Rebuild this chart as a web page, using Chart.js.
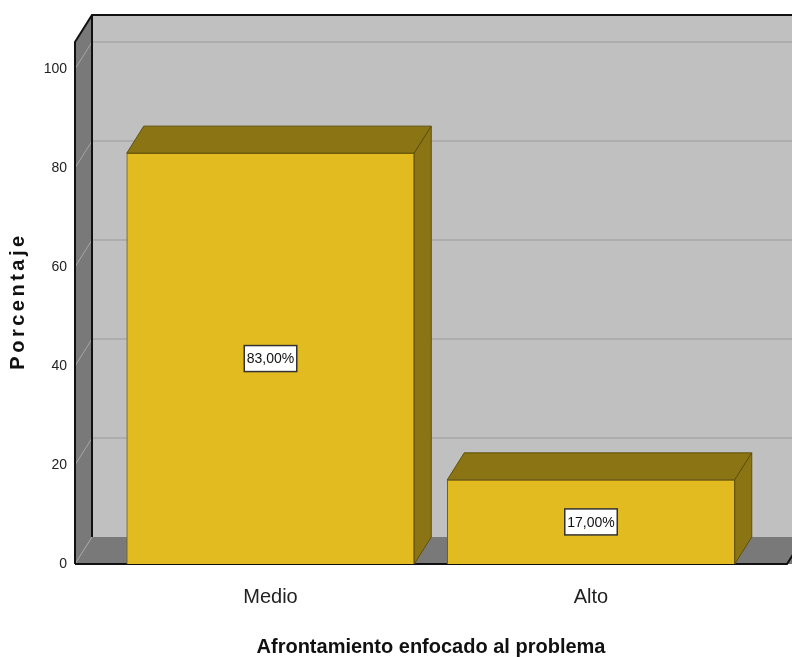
<!DOCTYPE html>
<html>
<head>
<meta charset="utf-8">
<script src="https://cdn.jsdelivr.net/npm/chart.js@4/dist/chart.umd.min.js"></script>
<style>
  body { margin: 0; background: #fff; }
  canvas { display: block; }
</style>
</head>
<body>
<canvas id="chart" width="792" height="657"></canvas>
<script>
const categories = ['Medio', 'Alto'];
const percentages = [83, 17];
const yTicks = [0, 20, 40, 60, 80, 100];
const xTitle = 'Afrontamiento enfocado al problema';
const yTitle = 'Porcentaje';

// depth of the fake 3D box
const DX = 17;
const DY = 27;

const sans = "'Liberation Sans', Arial, sans-serif";

function fmtPct(v) {
  return v.toFixed(2).replace('.', ',') + '%';
}

const threeD = {
  id: 'threeD',
  beforeDatasetsDraw(chart) {
    const ctx = chart.ctx;
    const { left: L, right: R, top: T, bottom: B } = chart.chartArea;
    const y = chart.scales.y;
    ctx.save();

    // back wall
    ctx.fillStyle = '#c0c0c0';
    ctx.fillRect(L + DX, T - DY, R - L + 40, B - T);

    // left wall
    ctx.fillStyle = '#797979';
    ctx.beginPath();
    ctx.moveTo(L, T);
    ctx.lineTo(L + DX, T - DY);
    ctx.lineTo(L + DX, B - DY);
    ctx.lineTo(L, B);
    ctx.closePath();
    ctx.fill();

    // floor
    ctx.beginPath();
    ctx.moveTo(L, B);
    ctx.lineTo(L + DX, B - DY);
    ctx.lineTo(R + DX + 40, B - DY);
    ctx.lineTo(R + 40, B);
    ctx.closePath();
    ctx.fill();

    // grid lines
    yTicks.forEach(v => {
      const py = y.getPixelForValue(v);
      if (v > 0) {
        ctx.strokeStyle = '#adadad';
        ctx.lineWidth = 2;
        ctx.beginPath();
        ctx.moveTo(L + DX, py - DY);
        ctx.lineTo(R + DX + 40, py - DY);
        ctx.stroke();
      }
      ctx.strokeStyle = '#a6a6a6';
      ctx.lineWidth = 1;
      ctx.beginPath();
      ctx.moveTo(L, py);
      ctx.lineTo(L + DX, py - DY);
      ctx.stroke();
    });

    // edges
    ctx.strokeStyle = '#111';
    ctx.lineWidth = 2;
    ctx.beginPath();
    ctx.moveTo(L, B);
    ctx.lineTo(L, T);
    ctx.lineTo(L + DX, T - DY);
    ctx.lineTo(R + DX + 40, T - DY);
    ctx.moveTo(L + DX, T - DY);
    ctx.lineTo(L + DX, B - DY);
    ctx.moveTo(L, B);
    ctx.lineTo(R, B);
    ctx.lineTo(R + DX, B - DY);
    ctx.stroke();
    ctx.restore();
  },
  afterDatasetsDraw(chart) {
    const ctx = chart.ctx;
    const meta = chart.getDatasetMeta(0);
    ctx.save();
    meta.data.forEach((bar, i) => {
      const { x, y, base, width } = bar.getProps(['x', 'y', 'base', 'width'], true);
      const l = x - width / 2;
      const r = x + width / 2;
      ctx.fillStyle = '#8b7413';
      ctx.strokeStyle = '#5f500c';
      ctx.lineWidth = 1;
      // top face
      ctx.beginPath();
      ctx.moveTo(l, y);
      ctx.lineTo(l + DX, y - DY);
      ctx.lineTo(r + DX, y - DY);
      ctx.lineTo(r, y);
      ctx.closePath();
      ctx.fill();
      ctx.stroke();
      // side face
      ctx.beginPath();
      ctx.moveTo(r, y);
      ctx.lineTo(r + DX, y - DY);
      ctx.lineTo(r + DX, base - DY);
      ctx.lineTo(r, base);
      ctx.closePath();
      ctx.fill();
      ctx.stroke();

      // value label
      const cy = (y + base) / 2;
      const txt = fmtPct(percentages[i]);
      ctx.font = '14px ' + sans;
      const tw = ctx.measureText(txt).width;
      const bw = tw + 5, bh = 26;
      ctx.fillStyle = '#fff';
      ctx.fillRect(x - bw / 2, cy - bh / 2, bw, bh);
      ctx.strokeStyle = '#333';
      ctx.lineWidth = 1.5;
      ctx.strokeRect(x - bw / 2, cy - bh / 2, bw, bh);
      ctx.fillStyle = '#111';
      ctx.textAlign = 'center';
      ctx.textBaseline = 'middle';
      ctx.fillText(txt, x, cy + 1);
    });
    ctx.restore();
  },
  afterDraw(chart) {
    const ctx = chart.ctx;
    const ca = chart.chartArea;
    ctx.save();
    ctx.translate(18, (ca.top + ca.bottom) / 2 - 2);
    ctx.rotate(-Math.PI / 2);
    ctx.font = 'bold 20px ' + sans;
    ctx.letterSpacing = '3.5px';
    ctx.fillStyle = '#111';
    ctx.textAlign = 'center';
    ctx.textBaseline = 'middle';
    ctx.fillText(yTitle, 0, 0);
    ctx.restore();
  }
};

new Chart(document.getElementById('chart'), {
  type: 'bar',
  data: {
    datasets: [{
      label: yTitle,
      data: categories.map((c, i) => ({ x: i, y: percentages[i] })),
      backgroundColor: '#e1bb1f',
      borderColor: '#6d5c0e',
      borderWidth: 1,
      barThickness: 287.5
    }]
  },
  options: {
    responsive: false,
    animation: false,
    devicePixelRatio: 1,
    layout: { padding: { left: 0, right: 5, top: 42, bottom: 0 } },
    plugins: {
      legend: { display: false },
      tooltip: { enabled: false }
    },
    scales: {
      x: {
        type: 'linear',
        offset: false,
        min: -0.61,
        max: 1.6115,
        grid: { display: false },
        border: { display: false },
        afterBuildTicks: s => { s.ticks = categories.map((c, i) => ({ value: i })); },
        afterFit: s => { s.height = 93; },
        ticks: {
          callback: v => categories[v],
          padding: 13,
          color: '#222',
          font: { size: 20, family: sans },
          maxRotation: 0
        },
        title: {
          display: true,
          text: xTitle,
          color: '#111',
          font: { size: 20, weight: 'bold', family: sans, lineHeight: 1 },
          padding: { top: 0, bottom: 0 }
        }
      },
      y: {
        min: 0,
        max: 105.45,
        grid: { display: false },
        border: { display: false },
        afterBuildTicks: s => { s.ticks = yTicks.map(v => ({ value: v })); },
        afterFit: s => { s.width = 75; },
        ticks: {
          padding: 0,
          color: '#222',
          font: { size: 14, family: sans }
        }
      }
    }
  },
  plugins: [threeD]
});
</script>
</body>
</html>
